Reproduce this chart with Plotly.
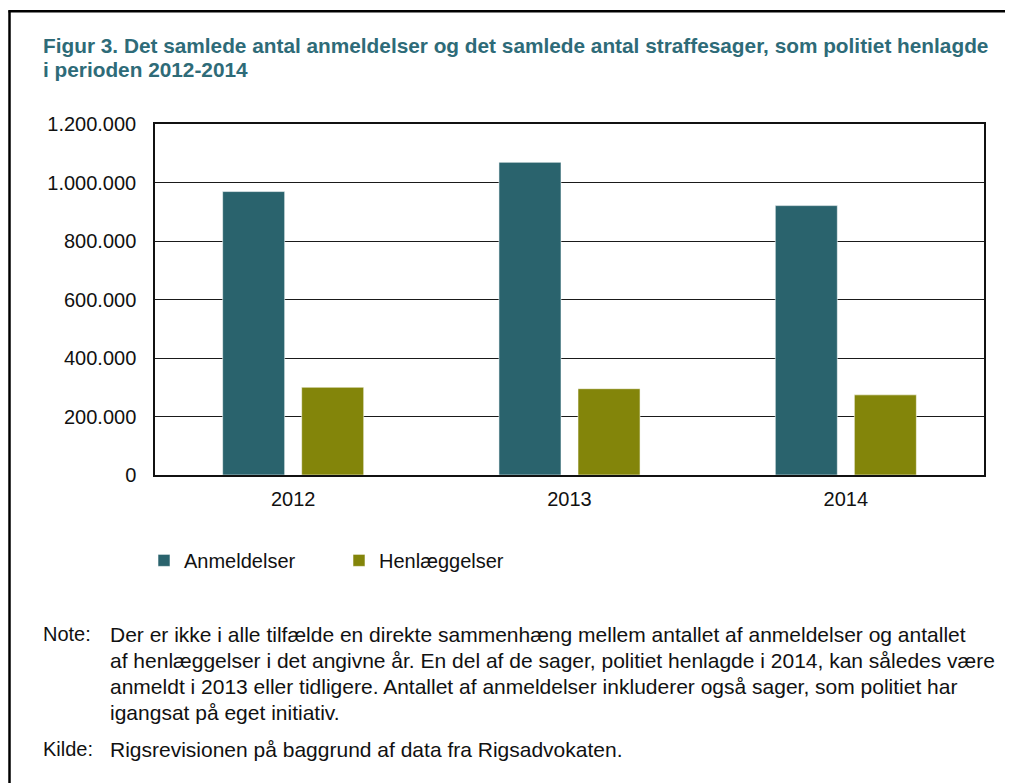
import plotly.graph_objects as go

years = ["2012", "2013", "2014"]
anmeldelser = [969000, 1069000, 921000]
henlaeggelser = [300000, 295000, 274000]
series_names = ["Anmeldelser", "Henlæggelser"]
tick_vals = [0, 200000, 400000, 600000, 800000, 1000000, 1200000]

title_lines = [
    "Figur 3. Det samlede antal anmeldelser og det samlede antal straffesager, som politiet henlagde",
    "i perioden 2012-2014",
]
note_lines = [
    "Der er ikke i alle tilfælde en direkte sammenhæng mellem antallet af anmeldelser og antallet",
    "af henlæggelser i det angivne år. En del af de sager, politiet henlagde i 2014, kan således være",
    "anmeldt i 2013 eller tidligere. Antallet af anmeldelser inkluderer også sager, som politiet har",
    "igangsat på eget initiativ.",
]
source_text = "Rigsrevisionen på baggrund af data fra Rigsadvokaten."

TEAL = "#2a636d"
OLIVE = "#83850a"
TITLE_C = "#2e6b78"
FONT = "Liberation Sans, Arial, sans-serif"

OFF = 8  # page body margin
W, H = 1013 - OFF, 783 - OFF
L, R, T, B = 155 - OFF, 984 - OFF, 124 - OFF, 475.5 - OFF


def px(x):
    return (x - OFF - L) / (R - L)


def py(y):
    return (B - (y - OFF)) / (B - T)


fig = go.Figure()
fig.add_trace(go.Bar(x=years, y=anmeldelser, name=series_names[0],
                     marker=dict(color=TEAL, line=dict(color="rgba(255,255,255,0.55)", width=1))))
fig.add_trace(go.Bar(x=years, y=henlaeggelser, name=series_names[1],
                     marker=dict(color=OLIVE, line=dict(color="rgba(255,255,255,0.55)", width=1))))

annotations = []
title_y = [45, 69]
for line, yy in zip(title_lines, title_y):
    annotations.append(dict(text=line, x=px(44), y=py(yy), xref="paper", yref="paper",
                            xanchor="left", yanchor="middle", showarrow=False, xshift=-3,
                            font=dict(family=FONT, size=20.8, color=TITLE_C, weight="bold")))
NOTE_SIZE = 21
note_y = [635, 661, 687, 713]
annotations.append(dict(text="Note:", x=px(44), y=py(note_y[0]), xref="paper", yref="paper",
                        xanchor="left", yanchor="middle", showarrow=False, xshift=-3,
                        font=dict(family=FONT, size=20, color="#111")))
for line, yy in zip(note_lines, note_y):
    annotations.append(dict(text=line, x=px(111), y=py(yy), xref="paper", yref="paper",
                            xanchor="left", yanchor="middle", showarrow=False, xshift=-3,
                            font=dict(family=FONT, size=NOTE_SIZE, color="#111")))
annotations.append(dict(text="Kilde:", x=px(44), y=py(750), xref="paper", yref="paper",
                        xanchor="left", yanchor="middle", showarrow=False, xshift=-3,
                        font=dict(family=FONT, size=20, color="#111")))
annotations.append(dict(text=source_text, x=px(111), y=py(750), xref="paper", yref="paper",
                        xanchor="left", yanchor="middle", showarrow=False, xshift=-3,
                        font=dict(family=FONT, size=NOTE_SIZE, color="#111")))

shapes = [
    dict(type="line", xref="paper", yref="paper", x0=px(8.5), x1=px(1030), y0=py(11), y1=py(11),
         line=dict(color="black", width=2.5)),
    dict(type="line", xref="paper", yref="paper", x0=px(9.5), x1=px(9.5), y0=py(10), y1=py(800),
         line=dict(color="black", width=2.5)),
]

fig.update_layout(
    width=W, height=H,
    margin=dict(l=L, r=W - R, t=T, b=H - B, pad=0),
    paper_bgcolor="white", plot_bgcolor="white",
    font=dict(family=FONT, size=20, color="#111"),
    separators=",.",
    barmode="group", bargap=0.428, bargroupgap=0.215,
    showlegend=True,
    legend=dict(orientation="h", x=px(144), y=py(561), xanchor="left", yanchor="middle",
                font=dict(family=FONT, size=20, color="#111"),
                entrywidth=150, entrywidthmode="pixels", bgcolor="rgba(0,0,0,0)"),
    annotations=annotations,
    shapes=shapes,
)
fig.update_xaxes(showline=True, linecolor="#111", linewidth=1.5, mirror=True,
                 showgrid=False, ticks="", tickfont=dict(size=20, family=FONT, color="#111"),
                 ticklabelstandoff=5)
fig.update_yaxes(range=[0, 1200000], tickvals=tick_vals, tickformat=",d",
                 showline=True, linecolor="#111", linewidth=1.5, mirror=True,
                 showgrid=True, gridcolor="#1a1a1a", gridwidth=1, zeroline=False,
                 ticks="", tickfont=dict(size=20, family=FONT, color="#111"),
                 ticklabelstandoff=13)

fig.write_html("out.html")
